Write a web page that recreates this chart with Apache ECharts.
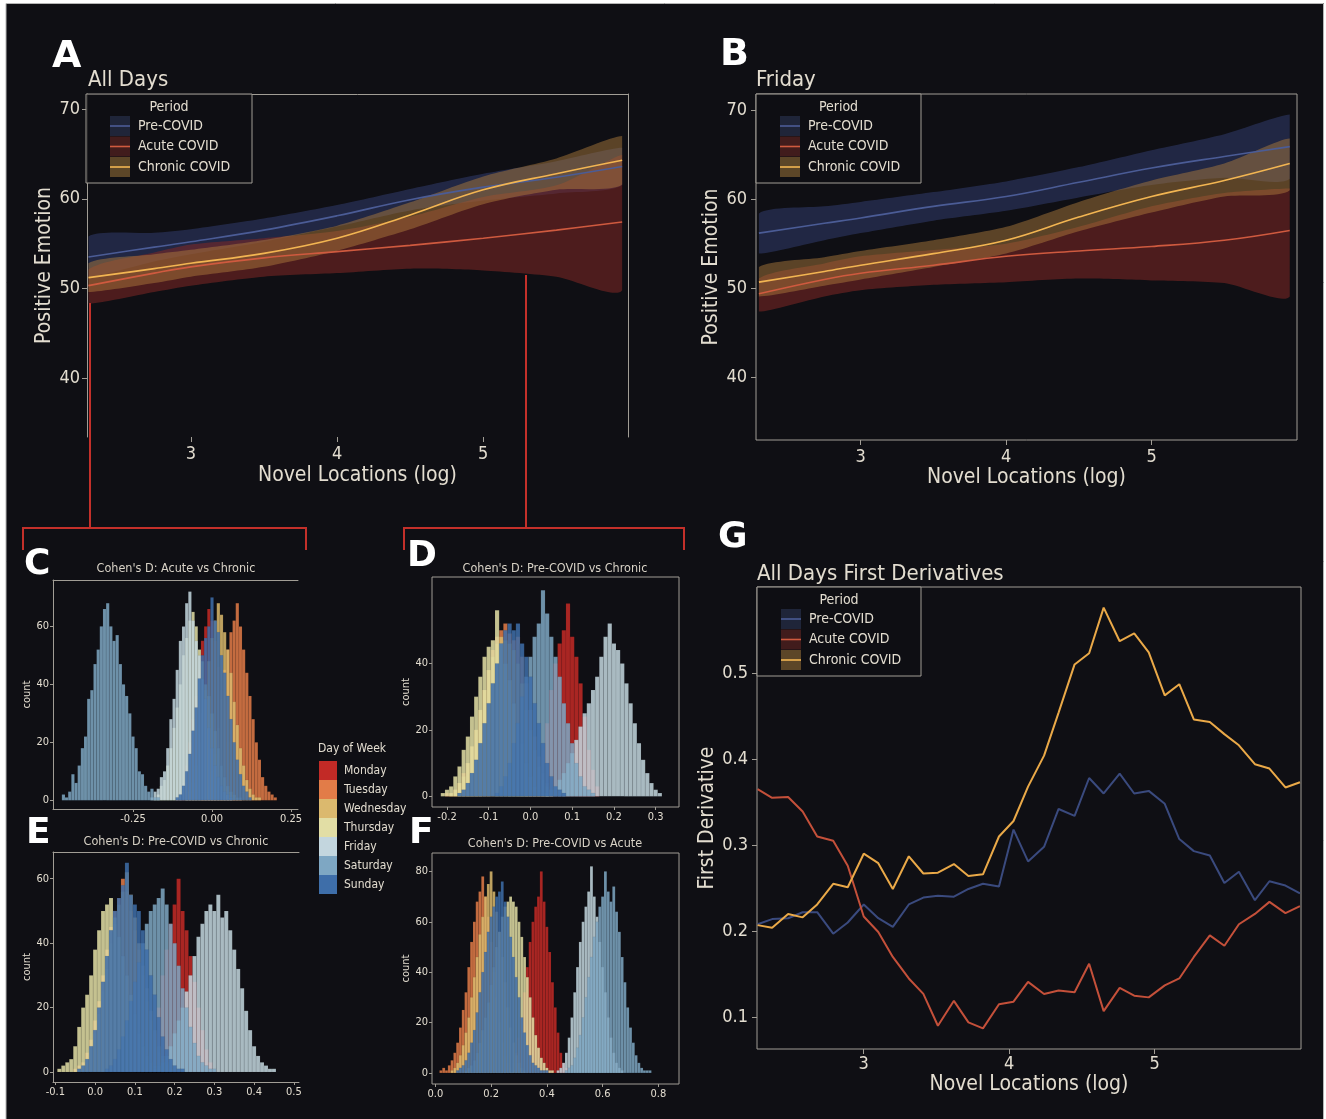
<!DOCTYPE html>
<html>
<head>
<meta charset="utf-8">
<script src="https://cdn.jsdelivr.net/npm/echarts@6/dist/echarts.min.js"></script>
<style>
    html, body { margin: 0; padding: 0; background: #fff; }
    #chart { width: 1326px; height: 1119px; }
</style>
</head>
<body>
<div id="chart"></div>
<script>
// ---------- data ----------
const periods = ["Pre-COVID", "Acute COVID", "Chronic COVID"];
const days = ["Monday", "Tuesday", "Wednesday", "Thursday", "Friday", "Saturday", "Sunday"];

// A / B: smoothed positive emotion by novel locations, with confidence band
const fitX = [2.3, 2.75, 3.0, 3.5, 4.0, 4.5, 5.0, 5.5, 5.95];

const aPreFit = [53.5, 54.6, 55.2, 56.5, 58.1, 59.9, 61.3, 62.4, 63.6];
const aPreLo = [51.3, 53.0, 53.8, 55.2, 56.9, 58.7, 59.8, 60.6, 61.5];
const aPreHi = [55.8, 56.2, 56.6, 57.8, 59.3, 61.1, 62.8, 64.2, 65.7];
const aAcuteFit = [50.3, 51.7, 52.4, 53.4, 54.1, 54.8, 55.6, 56.5, 57.4];
const aAcuteLo = [48.3, 49.6, 50.3, 51.3, 51.7, 52.2, 52.0, 51.3, 49.8];
const aAcuteHi = [52.1, 54.0, 54.9, 55.6, 56.4, 58.0, 60.2, 61.5, 64.9];
const aChronicFit = [51.2, 52.2, 52.8, 53.9, 55.6, 58.2, 61.0, 62.8, 64.3];
const aChronicLo = [49.6, 50.6, 51.3, 52.4, 54.2, 56.6, 59.4, 61.0, 61.6];
const aChronicHi = [52.8, 53.8, 54.3, 55.4, 57.0, 59.6, 62.5, 64.5, 67.0];

const bPreFit = [56.2, 57.3, 57.9, 59.2, 60.3, 61.9, 63.5, 64.8, 65.9];
const bPreLo = [53.9, 55.4, 56.2, 57.6, 58.7, 60.2, 61.6, 62.4, 62.3];
const bPreHi = [58.4, 59.2, 59.7, 60.8, 62.0, 63.6, 65.5, 67.3, 69.5];
const bAcuteFit = [49.4, 51.0, 51.7, 52.6, 53.6, 54.2, 54.7, 55.4, 56.5];
const bAcuteLo = [47.4, 49.1, 49.8, 50.4, 50.7, 51.1, 50.9, 50.6, 49.1];
const bAcuteHi = [51.1, 52.8, 53.6, 54.3, 55.0, 56.9, 59.2, 60.7, 61.2];
const bChronicFit = [50.7, 51.9, 52.6, 53.9, 55.4, 58.0, 60.3, 62.1, 64.0];
const bChronicLo = [49.1, 50.3, 51.0, 52.4, 53.9, 56.4, 58.5, 60.3, 61.0];
const bChronicHi = [52.4, 53.5, 54.2, 55.4, 56.9, 59.7, 62.1, 64.0, 66.8];

// G: first derivatives
const gX = [2.27, 2.37, 2.48, 2.58, 2.68, 2.79, 2.89, 3.00, 3.10, 3.20, 3.31, 3.41, 3.51, 3.62, 3.72, 3.82, 3.93, 4.03, 4.13,
    4.24, 4.34, 4.45, 4.55, 4.65, 4.76, 4.86, 4.96, 5.07, 5.17, 5.27, 5.38, 5.48, 5.58, 5.69, 5.79, 5.90, 6.00];
const gPre = [0.208, 0.214, 0.215, 0.222, 0.222, 0.197, 0.210, 0.231, 0.215, 0.205, 0.231, 0.239, 0.241, 0.240, 0.249, 0.255, 0.252, 0.318, 0.281,
    0.298, 0.342, 0.334, 0.378, 0.360, 0.383, 0.360, 0.363, 0.348, 0.307, 0.293, 0.288, 0.256, 0.269, 0.236, 0.258, 0.253, 0.244];
const gAcute = [0.365, 0.355, 0.356, 0.339, 0.310, 0.305, 0.276, 0.217, 0.199, 0.170, 0.145, 0.127, 0.090, 0.119, 0.094, 0.087, 0.115, 0.118, 0.141,
    0.127, 0.131, 0.129, 0.162, 0.107, 0.134, 0.125, 0.123, 0.137, 0.145, 0.170, 0.195, 0.183, 0.208, 0.220, 0.234, 0.221, 0.229];
const gChronic = [0.207, 0.204, 0.220, 0.216, 0.231, 0.255, 0.251, 0.290, 0.279, 0.249, 0.287, 0.267, 0.268, 0.278, 0.264, 0.266, 0.310, 0.328, 0.368,
    0.404, 0.454, 0.510, 0.523, 0.576, 0.537, 0.546, 0.524, 0.474, 0.487, 0.446, 0.443, 0.429, 0.416, 0.394, 0.389, 0.367, 0.373];

// C-F: Cohen's D bootstrap histograms, bin width 0.01, first bin centre per day (Mon..Sun)
const binWidth = 0.01;

const cStart = [-0.11, -0.03, -0.08, -0.18, -0.19, -0.47, -0.11];
const cMon = [1, 3, 6, 12, 20, 28, 36, 45, 55, 60, 66, 62, 55, 46, 38, 28, 20, 13, 8, 4, 2];
const cTue = [1, 2, 5, 10, 16, 25, 35, 45, 52, 58, 62, 68, 60, 52, 44, 36, 28, 20, 14, 8, 5, 3, 2, 1];
const cWed = [1, 3, 6, 12, 20, 30, 38, 48, 56, 62, 68, 64, 58, 52, 44, 34, 26, 18, 12, 7, 4, 2, 1, 1];
const cThu = [1, 2, 5, 7, 12, 18, 25, 32, 40, 50, 56, 62, 65, 60, 52, 48, 40, 36, 30, 24, 18, 12, 8, 5, 3, 2, 1, 1];
const cFri = [1, 3, 4, 8, 10, 18, 28, 35, 45, 55, 60, 68, 72, 62, 55, 50, 42, 35, 25, 18, 12, 8, 5, 3, 2, 1];
const cSat = [2, 1, 3, 9, 6, 12, 18, 22, 35, 38, 47, 52, 60, 66, 68, 60, 55, 57, 47, 40, 36, 30, 22, 18, 10, 9, 5, 3, 4, 1, 1];
const cSun = [1, 2, 5, 10, 16, 24, 32, 42, 50, 56, 60, 70, 62, 58, 50, 44, 36, 28, 20, 14, 9, 5, 3, 1];

const dStart = [0.0, -0.2, -0.19, -0.21, 0.04, -0.08, -0.17];
const dMon = [1, 3, 8, 14, 22, 32, 40, 46, 50, 58, 48, 42, 34, 24, 14, 8, 3];
const dTue = [1, 1, 2, 4, 7, 10, 15, 20, 26, 32, 38, 44, 48, 50, 52, 49, 47, 48, 42, 34, 26, 18, 12, 7, 4, 2];
const dWed = [1, 2, 4, 6, 10, 15, 20, 26, 32, 38, 42, 46, 48, 47, 46, 44, 40, 34, 26, 20, 14, 9, 5, 3, 1];
const dThu = [1, 2, 3, 6, 9, 14, 18, 24, 30, 36, 42, 45, 47, 56, 46, 40, 35, 28, 22, 16, 10, 6, 3, 2, 1, 1];
const dFri = [1, 2, 3, 5, 7, 10, 13, 17, 21, 25, 28, 32, 36, 42, 48, 52, 46, 44, 40, 34, 28, 22, 16, 11, 7, 4, 2, 1];
const dSat = [1, 3, 6, 10, 16, 22, 30, 36, 42, 48, 52, 62, 55, 48, 42, 36, 28, 22, 16, 10, 6, 3, 2, 1];
const dSun = [1, 2, 4, 7, 11, 16, 22, 28, 34, 40, 46, 50, 52, 50, 52, 46, 42, 36, 28, 22, 16, 10, 6, 3, 2, 1];

const eStart = [0.12, -0.05, -0.04, -0.09, 0.15, 0.03, -0.04];
const eMon = [1, 3, 6, 12, 20, 30, 38, 46, 52, 60, 50, 44, 36, 28, 20, 13, 7, 3, 1];
const eTue = [1, 2, 3, 6, 10, 16, 22, 30, 38, 45, 50, 54, 60, 56, 50, 44, 38, 30, 22, 16, 10, 6, 4, 2, 1, 1];
const eWed = [1, 2, 4, 7, 12, 18, 25, 32, 40, 46, 52, 56, 62, 55, 48, 40, 33, 26, 19, 13, 8, 5, 3, 1];
const eThu = [1, 2, 3, 4, 8, 14, 20, 24, 30, 38, 44, 50, 52, 54, 48, 42, 36, 30, 24, 18, 12, 8, 5, 3, 2, 1];
const eFri = [1, 2, 3, 5, 8, 12, 16, 20, 25, 30, 36, 42, 46, 50, 52, 50, 55, 48, 50, 44, 38, 32, 26, 19, 13, 8, 5, 3, 2, 1, 1];
const eSat = [1, 2, 4, 7, 11, 16, 22, 28, 34, 40, 46, 50, 52, 54, 57, 52, 46, 40, 33, 26, 20, 14, 9, 5, 3, 2, 1, 1];
const eSun = [1, 2, 4, 8, 13, 20, 28, 36, 44, 50, 54, 58, 65, 55, 52, 50, 44, 38, 30, 24, 17, 11, 7, 4, 2, 1, 1];

const fStart = [0.26, 0.02, 0.06, 0.11, 0.44, 0.47, 0.08];
const fMon = [1, 2, 4, 8, 14, 22, 32, 42, 52, 60, 66, 70, 80, 68, 58, 48, 36, 26, 16, 8, 4, 2];
const fTue = [1, 2, 1, 3, 5, 8, 12, 18, 25, 32, 42, 52, 60, 68, 72, 78, 70, 62, 52, 40, 30, 20, 12, 7, 4, 2, 1];
const fWed = [1, 2, 4, 7, 11, 16, 22, 30, 38, 46, 55, 62, 70, 75, 80, 72, 64, 56, 46, 36, 26, 18, 12, 7, 4, 2, 1];
const fThu = [1, 2, 3, 5, 8, 12, 17, 22, 28, 35, 42, 50, 56, 62, 66, 68, 70, 68, 66, 60, 54, 46, 38, 30, 22, 15, 10, 6, 4, 2, 1, 1];
const fFri = [1, 2, 4, 8, 14, 22, 32, 42, 52, 60, 66, 72, 82, 70, 62, 52, 42, 32, 22, 14, 8, 4, 2, 1];
const fSat = [1, 2, 3, 6, 10, 15, 22, 30, 38, 46, 54, 60, 66, 70, 80, 72, 68, 74, 64, 56, 46, 36, 26, 18, 12, 7, 4, 2, 1, 1, 1];
const fSun = [1, 2, 3, 5, 8, 12, 17, 24, 32, 40, 48, 56, 62, 66, 70, 72, 76, 68, 62, 54, 46, 38, 30, 22, 16, 11, 7, 4, 3, 2, 1, 1, 1];

// ---------- styles ----------
const fontFamily = '"Liberation Sans Narrow", "DejaVu Sans Condensed", "Roboto", sans-serif';
const textColor = "#e3ddd0";
const frameColor = "#a19d95";
const lineColors = ["#4b5c96", "#cf5a3f", "#f2b552"];
const bandColors = ["rgba(60,75,135,0.42)", "rgba(130,40,36,0.55)", "rgba(175,125,60,0.48)"];
const swatchColors = ["#1f2539", "#411c1c", "#5c4628"];
const gLineColors = ["#3a4a7e", "#c4503a", "#eaa948"];
const dayColors = ["#c22a26", "#e27c48", "#dbb96e", "#e2dea5", "#c3d6de", "#7ea7c3", "#3e6ea9"];
const red = "#c3302a";

const grid = [], xAxis = [], yAxis = [], series = [], graphic = [];

// 添加一个面板：网格 + 坐标轴
const addPanel = (rect, xr, yr, xTicks, yTicks, cfg) => {
    const gi = grid.length;
    grid.push(Object.assign({}, rect, cfg.border
        ? { show: true, borderColor: frameColor, borderWidth: 1, backgroundColor: "transparent" }
        : { show: false }));
    const xi = xAxis.length, yi = yAxis.length;
    xAxis.push({
        type: "value", gridIndex: gi, position: "bottom", min: xr[0], max: xr[1],
        axisLine: { show: !!cfg.xLine, onZero: false, lineStyle: { color: frameColor } },
        axisTick: { show: true, length: cfg.tick, customValues: xTicks, lineStyle: { color: frameColor } },
        axisLabel: { customValues: xTicks, formatter: cfg.xFmt, color: textColor, fontSize: cfg.label, margin: cfg.xMargin, fontFamily },
        splitLine: { show: false },
        name: cfg.xName || "", nameLocation: "middle", nameGap: cfg.xNameGap || 0,
        nameTextStyle: { color: textColor, fontSize: cfg.nameSize, fontFamily },
    });
    yAxis.push({
        type: "value", gridIndex: gi, position: "left", min: yr[0], max: yr[1],
        axisLine: { show: !!cfg.yLine, onZero: false, lineStyle: { color: frameColor } },
        axisTick: { show: true, length: cfg.tick, customValues: yTicks, lineStyle: { color: frameColor } },
        axisLabel: { customValues: yTicks, formatter: cfg.yFmt, color: textColor, fontSize: cfg.label, margin: cfg.yMargin, fontFamily },
        splitLine: { show: false },
        name: cfg.yName || "", nameLocation: "middle", nameGap: cfg.yNameGap || 0,
        nameTextStyle: { color: textColor, fontSize: cfg.nameSize, fontFamily },
    });
    const plain = { show: false };
    if (cfg.topLine) {
        xAxis.push({ type: "value", gridIndex: gi, position: "top", min: xr[0], max: xr[1],
            axisLine: { show: true, onZero: false, lineStyle: { color: frameColor } },
            axisTick: plain, axisLabel: plain, splitLine: plain });
    }
    if (cfg.rightLine) {
        yAxis.push({ type: "value", gridIndex: gi, position: "right", min: yr[0], max: yr[1],
            axisLine: { show: true, onZero: false, lineStyle: { color: frameColor } },
            axisTick: plain, axisLabel: plain, splitLine: plain });
    }
    return { xi, yi };
};

const bandSeries = (ax, xs, lo, hi, color) => {
    series.push({
        type: "custom", xAxisIndex: ax.xi, yAxisIndex: ax.yi, silent: true,
        data: xs.map((x, i) => [x, lo[i], hi[i]]),
        renderItem: (params, api) => {
            if (params.dataIndex !== 0) return null;
            const up = xs.map((x, i) => api.coord([x, hi[i]]));
            const dn = xs.map((x, i) => api.coord([x, lo[i]])).reverse();
            const pts = up.concat(dn);
            return {
                type: "polygon",
                shape: { points: pts, smooth: 0.25, smoothConstraint: [pts[0], pts[0]] },
                style: { fill: color },
            };
        },
    });
};

const lineSeries = (ax, xs, ys, color, smooth, width) => {
    series.push({
        type: "line", xAxisIndex: ax.xi, yAxisIndex: ax.yi, silent: true,
        data: xs.map((x, i) => [x, ys[i]]),
        symbol: "none", smooth: smooth, lineStyle: { color: color, width: width },
    });
};

const histSeries = (ax, starts, counts) => {
    counts.forEach((arr, d) => {
        series.push({
            type: "custom", xAxisIndex: ax.xi, yAxisIndex: ax.yi, silent: true,
            data: arr.map((c, i) => [starts[d] + i * binWidth, c]),
            renderItem: (params, api) => {
                const x = api.value(0), c = api.value(1);
                const p0 = api.coord([x - binWidth / 2, c]);
                const p1 = api.coord([x + binWidth / 2, 0]);
                return {
                    type: "rect",
                    shape: { x: p0[0], y: p0[1], width: p1[0] - p0[0], height: p1[1] - p0[1] },
                    style: { fill: dayColors[d], opacity: 0.86, stroke: "rgba(12,12,18,0.18)", lineWidth: 0.4 },
                };
            },
        });
    });
};

const text = (str, x, y, size, opts) => {
    graphic.push({
        type: "text", x: x, y: y, silent: true, z: 60,
        style: Object.assign({
            text: str, fill: textColor, fontSize: size, fontFamily,
            align: "left", verticalAlign: "middle",
        }, opts || {}),
    });
};

const periodLegend = (left, top, w, h) => {
    graphic.push({ type: "rect", shape: { x: left, y: top, width: w, height: h },
        style: { fill: "rgba(14,14,19,0.85)", stroke: frameColor, lineWidth: 1 }, z: 50 });
    graphic.push({ type: "text", x: left + w / 2, y: top + 13, z: 51,
        style: { text: "Period", fill: textColor, fontSize: 14, fontFamily, align: "center", verticalAlign: "middle" } });
    periods.forEach((p, k) => {
        const cy = top + 32 + k * 20.5;
        graphic.push({ type: "rect", shape: { x: left + 24, y: cy - 10, width: 20, height: 20 },
            style: { fill: swatchColors[k] }, z: 51 });
        graphic.push({ type: "line", shape: { x1: left + 24, y1: cy, x2: left + 44, y2: cy },
            style: { stroke: lineColors[k], lineWidth: 1.6 }, z: 52 });
        graphic.push({ type: "text", x: left + 52, y: cy, z: 51,
            style: { text: p, fill: textColor, fontSize: 14, fontFamily, align: "left", verticalAlign: "middle" } });
    });
};

// ---------- panels ----------
const intFmt = (v) => String(Math.round(v));
const big = { tick: 5, label: 18, nameSize: 21, xFmt: intFmt, yFmt: intFmt, xName: "Novel Locations (log)" };

const axA = addPanel({ left: 87, top: 94, width: 541, height: 343 }, [2.29, 5.99], [33.4, 71.7], [3, 4, 5], [40, 50, 60, 70],
    Object.assign({}, big, { yLine: true, topLine: true, rightLine: true, xMargin: 8, yMargin: 7,
        xNameGap: 28, yName: "Positive Emotion", yNameGap: 30 }));
const axB = addPanel({ left: 756, top: 94, width: 541, height: 346 }, [2.28, 6.0], [33.0, 71.8], [3, 4, 5], [40, 50, 60, 70],
    Object.assign({}, big, { border: true, xMargin: 8, yMargin: 9, xNameGap: 26, yName: "Positive Emotion", yNameGap: 30 }));
const axG = addPanel({ left: 757, top: 587, width: 544, height: 462 }, [2.266, 6.007], [0.063, 0.6], [3, 4, 5], [0.1, 0.2, 0.3, 0.4, 0.5],
    Object.assign({}, big, { border: true, xMargin: 6, yMargin: 9, xNameGap: 24, yFmt: (v) => v.toFixed(1),
        yName: "First Derivative", yNameGap: 30 }));

const small = { tick: 3, label: 11, nameSize: 11, xMargin: 5, yMargin: 4, yName: "count", yNameGap: 19,
    yFmt: intFmt, xFmt: (v) => v.toFixed(1) };
const axC = addPanel({ left: 53, top: 580, width: 245, height: 229 }, [-0.503, 0.272], [-3, 76], [-0.25, 0, 0.25], [0, 20, 40, 60],
    Object.assign({}, small, { xLine: true, yLine: true, topLine: true, xFmt: (v) => v.toFixed(2) }));
const axD = addPanel({ left: 432, top: 577, width: 247, height: 230 }, [-0.236, 0.356], [-3.2, 66], [-0.2, -0.1, 0, 0.1, 0.2, 0.3], [0, 20, 40],
    Object.assign({}, small, { border: true }));
const axE = addPanel({ left: 53, top: 852, width: 246, height: 230 }, [-0.106, 0.513], [-3.1, 68.3], [-0.1, 0, 0.1, 0.2, 0.3, 0.4, 0.5], [0, 20, 40, 60],
    Object.assign({}, small, { xLine: true, yLine: true, topLine: true }));
const axF = addPanel({ left: 432, top: 853, width: 247, height: 231 }, [-0.012, 0.874], [-4.4, 87.3], [0, 0.2, 0.4, 0.6, 0.8], [0, 20, 40, 60, 80],
    Object.assign({}, small, { border: true }));

// A
[[aPreLo, aPreHi], [aAcuteLo, aAcuteHi], [aChronicLo, aChronicHi]].forEach((b, k) => bandSeries(axA, fitX, b[0], b[1], bandColors[k]));
[aPreFit, aAcuteFit, aChronicFit].forEach((f, k) => lineSeries(axA, fitX, f, lineColors[k], 0.4, 1.6));
// B
[[bPreLo, bPreHi], [bAcuteLo, bAcuteHi], [bChronicLo, bChronicHi]].forEach((b, k) => bandSeries(axB, fitX, b[0], b[1], bandColors[k]));
[bPreFit, bAcuteFit, bChronicFit].forEach((f, k) => lineSeries(axB, fitX, f, lineColors[k], 0.4, 1.6));
// G
[gPre, gAcute, gChronic].forEach((f, k) => lineSeries(axG, gX, f, gLineColors[k], false, 2));
// C-F
histSeries(axC, cStart, [cMon, cTue, cWed, cThu, cFri, cSat, cSun]);
histSeries(axD, dStart, [dMon, dTue, dWed, dThu, dFri, dSat, dSun]);
histSeries(axE, eStart, [eMon, eTue, eWed, eThu, eFri, eSat, eSun]);
histSeries(axF, fStart, [fMon, fTue, fWed, fThu, fFri, fSat, fSun]);

// ---------- annotations ----------
// page margins
graphic.push({ type: "rect", shape: { x: 0, y: 0, width: 6, height: 1119 }, style: { fill: "#fff" }, z: 100 });
graphic.push({ type: "rect", shape: { x: 0, y: 0, width: 1326, height: 3 }, style: { fill: "#fff" }, z: 100 });
graphic.push({ type: "rect", shape: { x: 1324, y: 0, width: 2, height: 1119 }, style: { fill: "#fff" }, z: 100 });
graphic.push({ type: "polyline", shape: { points: [[6, 1119], [6, 3.5], [1323.5, 3.5], [1323.5, 1119]] },
    style: { stroke: "#b5b5b5", lineWidth: 1, fill: null }, z: 101 });

// red brackets linking A to C and D
graphic.push({ type: "polyline", shape: { points: [[90, 303], [90, 528]] }, style: { stroke: red, lineWidth: 2, fill: null }, z: 60 });
graphic.push({ type: "polyline", shape: { points: [[23, 550], [23, 528], [306, 528], [306, 550]] }, style: { stroke: red, lineWidth: 2, fill: null }, z: 60 });
graphic.push({ type: "polyline", shape: { points: [[526, 275], [526, 528]] }, style: { stroke: red, lineWidth: 2, fill: null }, z: 60 });
graphic.push({ type: "polyline", shape: { points: [[404, 550], [404, 528], [684, 528], [684, 550]] }, style: { stroke: red, lineWidth: 2, fill: null }, z: 60 });

// panel letters
const letter = { fill: "#ffffff", fontWeight: "bold", fontFamily: '"DejaVu Sans", sans-serif' };
text("A", 52, 57, 38, letter);
text("B", 720, 55, 38, letter);
text("C", 24, 565, 36, letter);
text("D", 407, 557, 36, letter);
text("E", 26, 834, 36, letter);
text("F", 409, 834, 36, letter);
text("G", 718, 538, 36, letter);

// titles
text("All Days", 88, 80, 22);
text("Friday", 756, 80, 22);
text("All Days First Derivatives", 757, 574, 22);
const ht = { align: "center", fill: "#d8d2c6" };
text("Cohen's D: Acute vs Chronic", 176, 569, 12.5, ht);
text("Cohen's D: Pre-COVID vs Chronic", 555, 569, 12.5, ht);
text("Cohen's D: Pre-COVID vs Chronic", 176, 842, 12.5, ht);
text("Cohen's D: Pre-COVID vs Acute", 555, 844, 12.5, ht);

// period legends
periodLegend(86, 94, 166, 89);
periodLegend(756, 94, 165, 89);
periodLegend(757, 587, 164, 89);

// day of week legend
text("Day of Week", 318, 749, 12);
days.forEach((d, i) => {
    graphic.push({ type: "rect", shape: { x: 319, y: 761 + i * 19, width: 18, height: 19 }, style: { fill: dayColors[i] }, z: 60 });
    text(d, 344, 770.5 + i * 19, 12);
});

const chart = echarts.init(document.getElementById("chart"));
chart.setOption({
    animation: false,
    backgroundColor: "#0f0f14",
    grid, xAxis, yAxis, series, graphic,
});
</script>
</body>
</html>
